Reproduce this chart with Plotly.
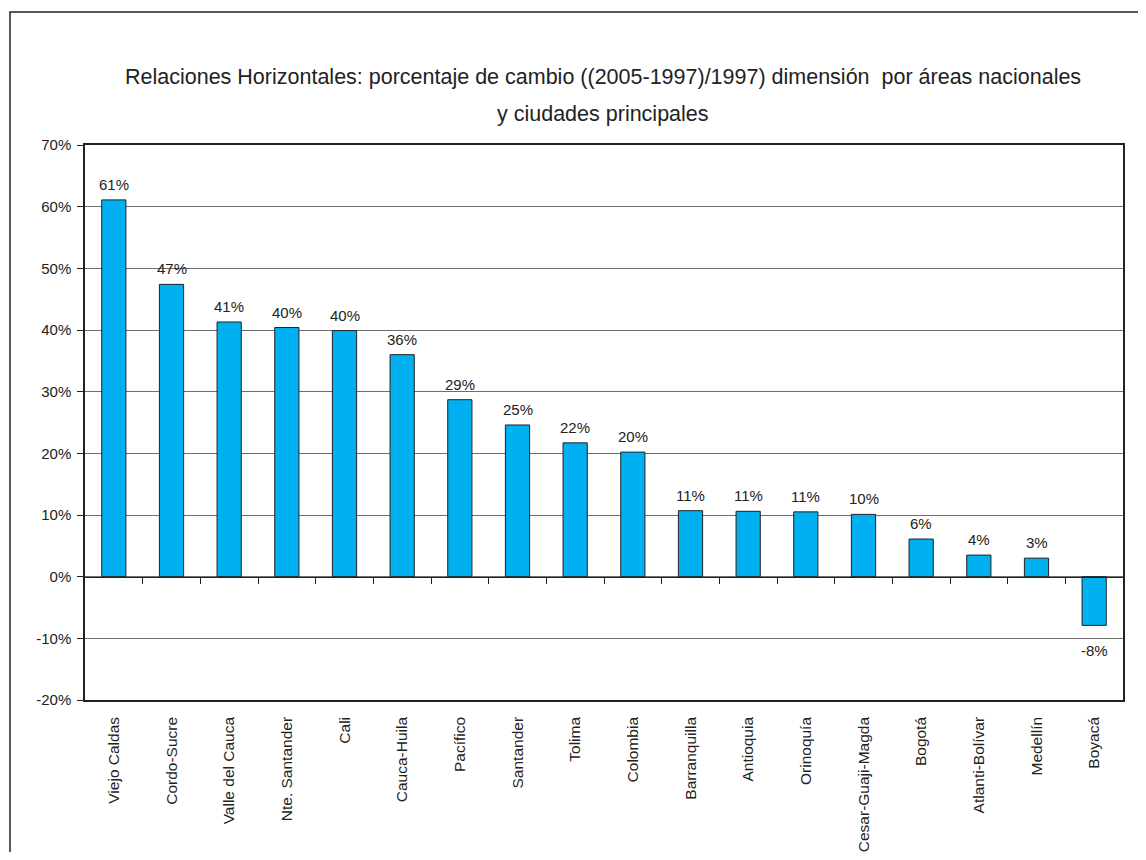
import plotly.graph_objects as go

categories = ["Viejo Caldas", "Cordo-Sucre", "Valle del Cauca", "Nte. Santander", "Cali",
              "Cauca-Huila", "Pacífico", "Santander", "Tolima", "Colombia", "Barranquilla",
              "Antioquia", "Orinoquía", "Cesar-Guaji-Magda", "Bogotá", "Atlanti-Bolívar",
              "Medellín", "Boyacá"]
values = [61.1, 47.4, 41.3, 40.4, 39.9, 36.0, 28.7, 24.6, 21.7, 20.2, 10.7, 10.6, 10.51, 10.1,
          6.1, 3.5, 3.0, -7.9]
labels = [f"{v:.0f}%" for v in values]
ytickvals = [-20, -10, 0, 10, 20, 30, 40, 50, 60, 70]
yticktext = ["-20%", "-10%", "0%", "10%", "20%", "30%", "40%", "50%", "60%", "70%"]

FONT = "Liberation Sans, Arial, sans-serif"
OFF = 8  # page body margin
W, H = 1146 - 2 * OFF, 860 - 2 * OFF
ML = 85 - OFF
MT = 145 - OFF
MR = W - (1123 - OFF)
MB = H - (700 - OFF)
pw, ph = W - ML - MR, H - MT - MB

def px(x):
    return (x - OFF - ML) / pw

def py(y):
    return (H - MB - (y - OFF)) / ph

fig = go.Figure()
fig.add_trace(go.Bar(
    x=categories, y=values, width=0.42,
    marker=dict(color="#00B0F0", line=dict(color="#222222", width=1)),
    hoverinfo="skip",
))

for c, v, t in zip(categories, values, labels):
    fig.add_annotation(
        x=c, y=v, text=t, showarrow=False,
        yanchor="bottom" if v >= 0 else "top",
        yshift=5 if v >= 0 else -15,
        font=dict(family=FONT, size=15, color="#222222"),
    )

fig.add_annotation(
    xref="paper", yref="paper", x=px(603), y=py(77),
    text="Relaciones Horizontales: porcentaje de cambio ((2005-1997)/1997) dimensión  por áreas nacionales",
    showarrow=False, font=dict(family=FONT, size=21.5, color="#222222"),
    xanchor="center", yanchor="middle",
)
fig.add_annotation(
    xref="paper", yref="paper", x=px(603), y=py(114),
    text="y ciudades principales",
    showarrow=False, font=dict(family=FONT, size=21.5, color="#222222"),
    xanchor="center", yanchor="middle",
)

# outer chart frame
fig.add_shape(type="rect", xref="paper", yref="paper",
              x0=px(10), x1=px(1170), y0=py(890), y1=py(12),
              line=dict(color="#222222", width=1.5), fillcolor="rgba(0,0,0,0)", layer="below")

fig.update_layout(
    width=W, height=H,
    margin=dict(l=ML, r=MR, t=MT, b=MB),
    paper_bgcolor="white", plot_bgcolor="white",
    showlegend=False,
    font=dict(family=FONT, size=15, color="#222222"),
    xaxis=dict(
        type="category", categoryorder="array", categoryarray=categories,
        tickangle=-90, ticks="", showgrid=False, automargin=False,
        showline=True, linecolor="#222222", linewidth=1.5, mirror=True,
        tickfont=dict(family=FONT, size=15.5, color="#222222"),
        ticklabelstandoff=9,
    ),
    xaxis2=dict(
        overlaying="x", anchor="free", position=py(577), automargin=False,
        range=[-0.5, len(categories) - 0.5], tickvals=[i + 0.5 for i in range(len(categories) - 1)],
        showticklabels=False, ticks="outside", ticklen=6, tickcolor="#222222",
        showline=True, linecolor="#222222", linewidth=1.2, showgrid=False, zeroline=False,
    ),
    yaxis=dict(
        range=[-20, 70], tickvals=ytickvals, ticktext=yticktext, automargin=False,
        showgrid=True, gridcolor="#6e6e6e", gridwidth=1.2, zeroline=False,
        showline=True, linecolor="#222222", linewidth=1.5, mirror=True,
        ticks="outside", ticklen=6, tickcolor="#222222",
        tickfont=dict(family=FONT, size=15, color="#222222"),
        ticklabelstandoff=3,
    ),
)
# invisible helper trace that activates the zero-line axis carrying the category ticks
fig.add_trace(go.Scatter(x=[0], y=[0], xaxis="x2", mode="markers",
                         marker=dict(opacity=0), hoverinfo="skip", showlegend=False))

fig.write_html("out.html")
